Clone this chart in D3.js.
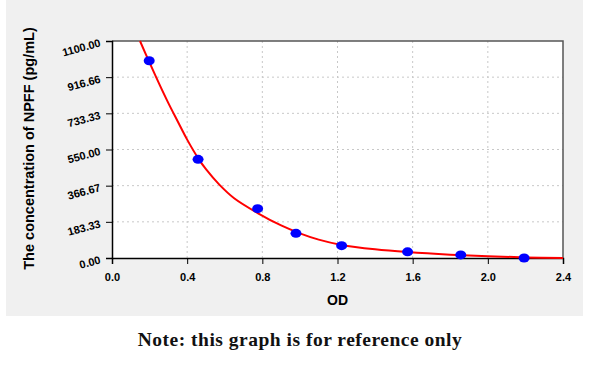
<!DOCTYPE html>
<html>
<head>
<meta charset="utf-8">
<script src="https://cdn.jsdelivr.net/npm/d3@7"></script>
<style>
  body { margin: 0; background: #fff; }
  svg { display: block; }
</style>
</head>
<body>
<div id="chart"></div>
<script>
// standard points (OD, concentration)
var odValues = [0.198, 0.458, 0.775, 0.979, 1.222, 1.573, 1.856, 2.193];
var concValues = [1000, 500, 250, 125, 62.5, 31.25, 15.625, 0];

// fitted curve
var curveOD = [0.149, 0.2, 0.25, 0.3, 0.35, 0.4, 0.459, 0.5, 0.571, 0.65, 0.775, 0.9, 1.0, 1.1, 1.222, 1.4, 1.573, 1.8, 2.0, 2.2, 2.4];
var curveConc = [1100, 990, 885, 785, 692, 600, 505, 450, 372, 303, 228, 165, 125, 93, 66, 44, 30, 17, 9, 3, 0];

var xTicks = [0.0, 0.4, 0.8, 1.2, 1.6, 2.0, 2.4];
var yTicks = [0, 183.33, 366.67, 550.00, 733.33, 916.66, 1100.00];

var width = 600, height = 367,
    margin = {left: 112, top: 41, right: 37, bottom: 109};

var svg = d3.select("#chart").append("svg")
    .attr("width", width)
    .attr("height", height);

// grey panel
svg.append("rect")
    .attr("x", 6).attr("y", 0)
    .attr("width", 577).attr("height", 316)
    .attr("fill", "#f0f0f0");

var x = d3.scaleLinear().domain([0, 2.4]).range([margin.left, width - margin.right]);
var y = d3.scaleLinear().domain([0, 1100]).range([height - margin.bottom, margin.top]);

var x0 = x.range()[0], x1 = x.range()[1], y0 = y.range()[0], y1 = y.range()[1];

svg.append("rect")
    .attr("x", x0).attr("y", y1)
    .attr("width", x1 - x0).attr("height", y0 - y1)
    .attr("fill", "#fff");

// grid
var grid = svg.append("g").attr("stroke", "#c8c8c8").attr("stroke-dasharray", "2,3");
grid.selectAll(".gx").data(xTicks.slice(1, -1)).enter().append("line")
    .attr("x1", d => x(d)).attr("x2", d => x(d))
    .attr("y1", y0).attr("y2", y1);
grid.selectAll(".gy").data(yTicks.slice(1, -1)).enter().append("line")
    .attr("x1", x0).attr("x2", x1)
    .attr("y1", d => y(d)).attr("y2", d => y(d));

// frame top / right
svg.append("path")
    .attr("d", "M" + x0 + "," + y1 + "H" + x1 + "V" + y0)
    .attr("fill", "none").attr("stroke", "#555").attr("stroke-width", 1.5);

// x axis
var xMinor = d3.range(0, 25).map(d => d / 10);
var xAxis = svg.append("g").attr("transform", "translate(0," + y0 + ")");
xAxis.call(d3.axisBottom(x).tickValues(xMinor).tickSize(4).tickFormat(""))
    .call(g => g.select(".domain").remove());
xAxis.call(d3.axisBottom(x).tickValues(xTicks).tickSize(6).tickFormat(d3.format(".1f")))
    .call(g => g.selectAll(".domain").attr("stroke-width", 1.5))
    .call(g => g.selectAll("text").attr("font-family", "Liberation Sans, Arial").attr("font-size", 11)
        .attr("font-weight", "bold").attr("fill", "#000").attr("dy", "1.25em"));

// y axis
var yStep = 1100 / 24;
var yMinor = d3.range(0, 25).map(d => d * yStep);
var yAxis = svg.append("g").attr("transform", "translate(" + x0 + ",0)");
yAxis.call(d3.axisLeft(y).tickValues(yMinor).tickSize(5).tickFormat(""))
    .call(g => g.select(".domain").remove());
yAxis.call(d3.axisLeft(y).tickValues(yTicks).tickSize(6).tickFormat(d3.format(".2f")))
    .call(g => g.selectAll(".domain").attr("stroke-width", 1.5))
    .call(g => g.selectAll("text")
        .attr("font-family", "Liberation Sans, Arial").attr("font-size", 11)
        .attr("font-weight", "bold").attr("fill", "#000")
        .attr("x", -12).attr("dy", "0.45em")
        .attr("transform", "rotate(-15,-12,0)"));

// fitted curve
var line = d3.line()
    .x((d, i) => x(curveOD[i]))
    .y(d => y(d))
    .curve(d3.curveCatmullRom);
svg.append("path")
    .datum(curveConc)
    .attr("d", line)
    .attr("fill", "none")
    .attr("stroke", "#ff0000")
    .attr("stroke-width", 2);

// points
svg.selectAll(".pt").data(concValues).enter().append("ellipse")
    .attr("cx", (d, i) => x(odValues[i]))
    .attr("cy", d => y(d))
    .attr("rx", 5.5).attr("ry", 4.5)
    .attr("fill", "#0000ff");

// axis titles
svg.append("text")
    .attr("x", (x0 + x1) / 2).attr("y", 305)
    .attr("text-anchor", "middle")
    .attr("font-family", "Liberation Sans, Arial").attr("font-size", 14).attr("font-weight", "bold")
    .text("OD");

svg.append("text")
    .attr("transform", "translate(34," + ((y0 + y1) / 2 - 1) + ") rotate(-90)")
    .attr("text-anchor", "middle")
    .attr("font-family", "Liberation Sans, Arial").attr("font-size", 14.5).attr("font-weight", "bold")
    .text("The concentration of NPFF (pg/mL)");

svg.append("text")
    .attr("x", 300).attr("y", 346)
    .attr("text-anchor", "middle")
    .attr("font-family", "Liberation Serif, serif").attr("font-size", 19.5).attr("font-weight", "bold")
    .attr("letter-spacing", 0.5)
    .attr("fill", "#111")
    .text("Note: this graph is for reference only");
</script>
</body>
</html>
